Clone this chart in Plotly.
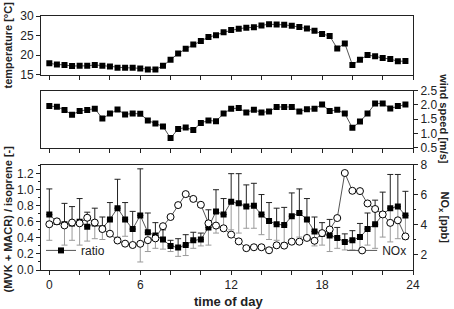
import plotly.graph_objects as go

# ---------------- data ----------------
hours = [h * 0.5 for h in range(48)]

temperature = [17.9, 17.6, 17.5, 17.2, 17.25, 17.25, 17.5, 17.3, 17.1, 16.8, 16.75, 16.75,
               16.6, 16.3, 16.3, 17.25, 18.8, 20.4, 21.6, 22.7, 23.6, 24.6, 25.1, 25.85,
               26.4, 26.75, 27.0, 27.1, 27.6, 27.9, 27.8, 27.75, 27.5, 27.2, 26.8, 26.2,
               25.4, 24.9, 21.7, 23.0, 17.5, 18.8, 20.0, 19.7, 19.25, 19.0, 18.4, 18.5]

wind_speed = [1.96, 1.94, 1.82, 1.66, 1.79, 1.82, 1.87, 1.53, 1.70, 1.84, 1.67, 1.70,
              1.69, 1.46, 1.35, 1.25, 0.84, 1.16, 1.21, 1.12, 1.37, 1.46, 1.43, 1.70,
              1.87, 1.89, 1.74, 1.83, 1.74, 1.77, 1.93, 1.93, 1.93, 1.77, 1.85, 1.87,
              2.02, 1.79, 1.83, 1.70, 1.20, 1.42, 1.70, 2.05, 2.05, 1.88, 1.96, 2.02]

ratio = [0.69, 0.60, 0.57, 0.58, 0.60, 0.54, 0.58, 0.52, 0.63, 0.77, 0.63, 0.51,
         0.68, 0.47, 0.43, 0.38, 0.30, 0.28, 0.31, 0.37, 0.38, 0.53, 0.73, 0.69,
         0.85, 0.83, 0.79, 0.80, 0.69, 0.61, 0.57, 0.56, 0.67, 0.71, 0.63, 0.48,
         0.45, 0.43, 0.40, 0.35, 0.37, 0.41, 0.51, 0.57, 0.69, 0.77, 0.79, 0.68]

ratio_err = [0.32, 0.03, 0.26, 0.21, 0.29, 0.18, 0.19, 0.14, 0.21, 0.36, 0.21, 0.22,
             0.58, 0.24, 0.16, 0.12, 0.07, 0.11, 0.13, 0.10, 0.08, 0.22, 0.27, 0.20,
             0.35, 0.37, 0.27, 0.28, 0.25, 0.23, 0.20, 0.22, 0.29, 0.30, 0.26, 0.18,
             0.14, 0.20, 0.13, 0.10, 0.12, 0.17, 0.20, 0.30, 0.28, 0.42, 0.40, 0.30]

nox = [4.04, 4.23, 3.96, 4.15, 4.10, 4.47, 4.15, 3.72, 3.41, 2.96, 2.75, 2.66,
       2.74, 2.98, 3.10, 3.91, 4.52, 5.31, 6.04, 5.72, 5.33, 4.10, 3.95, 3.77,
       3.35, 2.90, 2.45, 2.51, 2.51, 2.31, 2.64, 2.62, 2.88, 2.88, 3.13, 2.94,
       3.45, 3.69, 4.45, 7.44, 6.26, 6.24, 5.42, 5.05, 4.69, 4.13, 4.30, 3.23]

x_ticks = [0, 6, 12, 18, 24]
x_minor = [2, 4, 8, 10, 14, 16, 20, 22]

# ---------------- styling ----------------
FONT = "Liberation Sans"
LINE_C = "#555555"
AX_C = "#222222"
X_RANGE = [-0.55, 24]

fig = go.Figure()

# top panel: temperature
fig.add_trace(go.Scatter(x=hours, y=temperature, mode="lines+markers",
                         line=dict(color=LINE_C, width=1),
                         marker=dict(symbol="square", size=6, color="black"),
                         xaxis="x3", yaxis="y5", showlegend=False))

# middle panel: wind speed
fig.add_trace(go.Scatter(x=hours, y=wind_speed, mode="lines+markers",
                         line=dict(color=LINE_C, width=1),
                         marker=dict(symbol="square", size=6, color="black"),
                         xaxis="x2", yaxis="y3", showlegend=False))

# bottom panel: lower error bars (gray)
fig.add_trace(go.Scatter(x=hours, y=ratio, mode="markers",
                         marker=dict(size=1, color="rgba(0,0,0,0)"),
                         error_y=dict(type="data", symmetric=False,
                                      array=[0] * len(ratio), arrayminus=ratio_err,
                                      color="#9a9a9a", thickness=1, width=3),
                         xaxis="x", yaxis="y", showlegend=False, hoverinfo="skip"))

# ratio with upper error bars (black)
fig.add_trace(go.Scatter(x=hours, y=ratio, mode="lines+markers", name="ratio",
                         line=dict(color=LINE_C, width=1),
                         marker=dict(symbol="square", size=6, color="black"),
                         error_y=dict(type="data", symmetric=False,
                                      array=ratio_err, arrayminus=[0] * len(ratio),
                                      color="#222222", thickness=1, width=3),
                         xaxis="x", yaxis="y", legend="legend"))

# NOx
fig.add_trace(go.Scatter(x=hours, y=nox, mode="lines+markers", name="NOx",
                         line=dict(color=LINE_C, width=1),
                         marker=dict(symbol="circle", size=7, color="white",
                                     line=dict(color="black", width=1)),
                         xaxis="x", yaxis="y2", legend="legend2"))

tickfont = dict(family=FONT, size=12, color="#222222")
common_x = dict(range=X_RANGE, showgrid=False, zeroline=False, showline=True,
                linecolor=AX_C, linewidth=1, mirror=True, ticks="outside",
                ticklen=4, tickcolor=AX_C, tickmode="array",
                tickvals=x_ticks, tickfont=tickfont,
                minor=dict(tickvals=x_minor, ticks="outside", ticklen=4,
                           tickcolor=AX_C))

d_bot = [0.0, 0.415]
d_mid = [0.481, 0.706]
d_top = [0.769, 1.0]

fig.update_layout(
    width=454, height=309,
    margin=dict(l=41, r=41, t=9, b=39, pad=0),
    paper_bgcolor="white", plot_bgcolor="white",
    font=dict(family=FONT, size=12, color="#222222"),
    xaxis=dict(**common_x, domain=[0, 1], anchor="y",
               ticktext=[str(v) for v in x_ticks]),
    xaxis2=dict(**common_x, domain=[0, 1], anchor="y3", showticklabels=False),
    xaxis3=dict(**common_x, domain=[0, 1], anchor="y5", showticklabels=False),
    xaxis4=dict(range=X_RANGE, overlaying="x", side="top", anchor="y",
                showgrid=False, zeroline=False, showline=False, ticks="inside",
                ticklen=4, tickcolor=AX_C, tickmode="array",
                tickvals=list(range(0, 25, 2)), showticklabels=False),
    # bottom: ratio (left) & NOx (right)
    yaxis=dict(domain=d_bot, anchor="x", range=[0, 1.313], showgrid=False,
               zeroline=False, showline=True, linecolor=AX_C, linewidth=1,
               mirror=True, ticks="outside", ticklen=4, tickcolor=AX_C,
               tickmode="array", tickvals=[0, 0.2, 0.4, 0.6, 0.8, 1.0, 1.2],
               ticktext=["0.0", "0.2", "0.4", "0.6", "0.8", "1.0", "1.2"],
               tickfont=tickfont,
               minor=dict(tickvals=[0.1, 0.3, 0.5, 0.7, 0.9, 1.1, 1.3],
                          ticks="outside", ticklen=2, tickcolor=AX_C)),
    yaxis2=dict(overlaying="y", side="right", anchor="x", range=[1, 8],
                showgrid=False, zeroline=False, showline=False,
                ticks="outside", ticklen=4, tickcolor=AX_C,
                tickmode="array", tickvals=[2, 4, 6, 8], tickfont=tickfont,
                minor=dict(tickvals=[3, 5, 7], ticks="outside", ticklen=2,
                           tickcolor=AX_C)),
    # middle: wind speed (right labels), left ticks only
    yaxis3=dict(domain=d_mid, anchor="x2", side="right", range=[0.5, 2.5],
                showgrid=False, zeroline=False, showline=True, linecolor=AX_C,
                linewidth=1, mirror=True, ticks="outside", ticklen=4,
                tickcolor=AX_C, tickmode="array",
                tickvals=[0.5, 1.0, 1.5, 2.0, 2.5],
                ticktext=["0.5", "1.0", "1.5", "2.0", "2.5"], tickfont=tickfont),
    yaxis4=dict(overlaying="y3", side="left", anchor="x2", range=[0.5, 2.5],
                showgrid=False, zeroline=False, showline=False,
                ticks="outside", ticklen=4, tickcolor=AX_C, tickmode="array",
                tickvals=[0.75, 1.0, 1.25, 1.5, 1.75, 2.0, 2.25],
                showticklabels=False),
    # top: temperature (left labels), right ticks only
    yaxis5=dict(domain=d_top, anchor="x3", range=[15, 30], showgrid=False,
                zeroline=False, showline=True, linecolor=AX_C, linewidth=1,
                mirror=True, ticks="outside", ticklen=4, tickcolor=AX_C,
                tickmode="array", tickvals=[15, 20, 25, 30], tickfont=tickfont),
    yaxis6=dict(overlaying="y5", side="right", anchor="x3", range=[15, 30],
                showgrid=False, zeroline=False, showline=False,
                ticks="outside", ticklen=4, tickcolor=AX_C, tickmode="array",
                tickvals=[17.5, 20, 22.5, 25, 27.5], showticklabels=False),
    legend=dict(x=0.0, y=0.02, xanchor="left", yanchor="bottom",
                bgcolor="rgba(0,0,0,0)", font=dict(family=FONT, size=12),
                itemwidth=30, tracegroupgap=0),
    legend2=dict(x=0.995, y=0.02, xanchor="right", yanchor="bottom",
                 bgcolor="rgba(0,0,0,0)", font=dict(family=FONT, size=12),
                 itemwidth=30, tracegroupgap=0),
)

title_font = dict(family=FONT, size=11, color="#222222")
annos = [
    dict(text="<b>temperature [°C]</b>", x=-0.088, y=0.885, textangle=-90),
    dict(text="<b>(MVK + MACR) / isoprene [-]</b>", x=-0.088, y=0.2, textangle=-90),
    dict(text="<b>wind speed [m/s]</b>", x=1.083, y=0.594, textangle=90),
    dict(text="<b>NO<sub>x</sub> [ppb]</b>", x=1.083, y=0.207, textangle=90),
]
for a in annos:
    fig.add_annotation(xref="paper", yref="paper", showarrow=False,
                       xanchor="center", yanchor="middle", font=title_font, **a)
fig.add_annotation(text="<b>time of day</b>", xref="paper", yref="paper",
                   x=0.503, y=-0.123, showarrow=False, xanchor="center",
                   yanchor="middle", font=dict(family=FONT, size=13, color="#222222"))

fig.write_html("out.html")
